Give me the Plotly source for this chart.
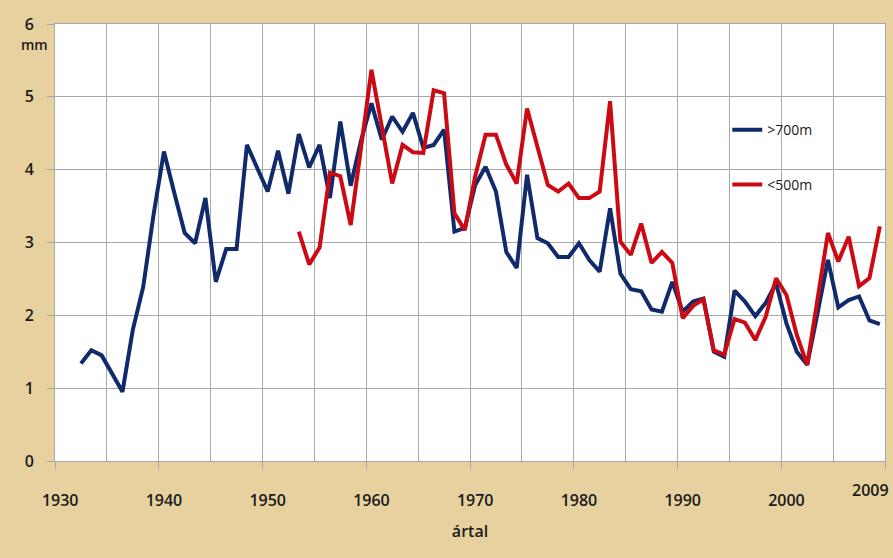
import plotly.graph_objects as go

years_high = list(range(1932, 2010))
vals_high = [1.34, 1.52, 1.45, 1.20, 0.95, 1.80, 2.39, 3.38, 4.25, 3.68,
             3.13, 2.99, 3.61, 2.46, 2.91, 2.91, 4.34, 4.02, 3.70, 4.26,
             3.67, 4.49, 4.03, 4.34, 3.61, 4.66, 3.78, 4.40, 4.91, 4.41,
             4.73, 4.52, 4.78, 4.30, 4.34, 4.55, 3.15, 3.20, 3.79, 4.04,
             3.70, 2.87, 2.65, 3.93, 3.06, 2.99, 2.80, 2.80, 2.99, 2.76,
             2.60, 3.47, 2.57, 2.36, 2.33, 2.08, 2.05, 2.46, 2.05, 2.19,
             2.23, 1.50, 1.43, 2.34, 2.19, 1.99, 2.17, 2.44, 1.89, 1.50,
             1.32, 2.03, 2.76, 2.11, 2.21, 2.26, 1.93, 1.88]

years_low = list(range(1953, 2010))
vals_low = [3.15, 2.70, 2.93, 3.96, 3.91, 3.24, 4.30, 5.37, 4.59, 3.81,
            4.34, 4.24, 4.23, 5.09, 5.05, 3.40, 3.17, 3.91, 4.48, 4.48,
            4.07, 3.81, 4.84, 4.32, 3.79, 3.70, 3.81, 3.61, 3.61, 3.70,
            4.94, 3.01, 2.83, 3.26, 2.72, 2.87, 2.72, 1.96, 2.13, 2.22,
            1.52, 1.46, 1.95, 1.90, 1.66, 1.98, 2.51, 2.28, 1.73, 1.32,
            2.21, 3.13, 2.74, 3.08, 2.40, 2.51, 3.22]

name_high = ">700m"
name_low = "<500m"
tick_years = [1930, 1940, 1950, 1960, 1970, 1980, 1990, 2000]
tick_text = [str(y) for y in tick_years]

BLUE = "#102A6B"
RED = "#CC0A14"
GRID = "#A8A8A8"
BG = "#E7D29F"
FONT = "Open Sans"

fig = go.Figure()
fig.add_trace(go.Scatter(x=years_high, y=vals_high, mode="lines", name=name_high,
                         line=dict(color=BLUE, width=4), legend="legend"))
fig.add_trace(go.Scatter(x=years_low, y=vals_low, mode="lines", name=name_low,
                         line=dict(color=RED, width=4), legend="legend2"))
# invisible trace on overlay axis for decade tick marks
fig.add_trace(go.Scatter(x=[1930], y=[0], xaxis="x2", mode="markers",
                         marker=dict(opacity=0), showlegend=False, hoverinfo="skip"))

fig.update_layout(
    width=893, height=558,
    margin=dict(l=55, r=8, t=24, b=97, autoexpand=False),
    paper_bgcolor=BG, plot_bgcolor="white",
    font=dict(family=FONT, size=16, color="#1a1a1a", weight=600),
    xaxis=dict(range=[1929.5, 2009.5], tickvals=tick_years, ticktext=tick_text,
               showgrid=False, ticks="", ticklabelstandoff=25, automargin=False,
               minor=dict(tick0=1929.5, dtick=5, showgrid=True, gridcolor=GRID,
                          gridwidth=1, ticks=""),
               showline=True, linecolor=GRID, linewidth=1, mirror=True,
               title=dict(text="ártal", standoff=15, font=dict(size=16)),
               zeroline=False),
    xaxis2=dict(range=[1929.5, 2009.5], overlaying="x", tick0=1929.5, dtick=10,
                ticks="outside", ticklen=7, tickcolor=GRID, showticklabels=False,
                showgrid=False, side="bottom", zeroline=False, automargin=False),
    yaxis=dict(range=[0, 6], dtick=1, showgrid=True, gridcolor=GRID, gridwidth=1,
               ticks="outside", ticklen=7, tickcolor=GRID, ticklabelstandoff=10,
               showline=True, linecolor=GRID, linewidth=1, mirror=True,
               zeroline=False, automargin=False),
    legend=dict(x=0.81, y=0.757, xanchor="left", yanchor="middle",
                bgcolor="rgba(0,0,0,0)", font=dict(size=14, weight=400)),
    legend2=dict(x=0.81, y=0.632, xanchor="left", yanchor="middle",
                 bgcolor="rgba(0,0,0,0)", font=dict(size=14, weight=400)),
    annotations=[
        dict(text="mm", xref="paper", yref="paper", x=-0.025, y=0.953,
             xanchor="center", yanchor="middle", showarrow=False,
             font=dict(size=14)),
        dict(text="2009", xref="x", yref="paper", x=2008.1, y=-0.066,
             xanchor="center", yanchor="middle", showarrow=False,
             font=dict(size=16)),
    ],
    showlegend=True,
)

fig.write_html("out.html", config={"displayModeBar": False},
               post_script="document.body.style.margin='0';document.body.style.overflow='hidden';")
